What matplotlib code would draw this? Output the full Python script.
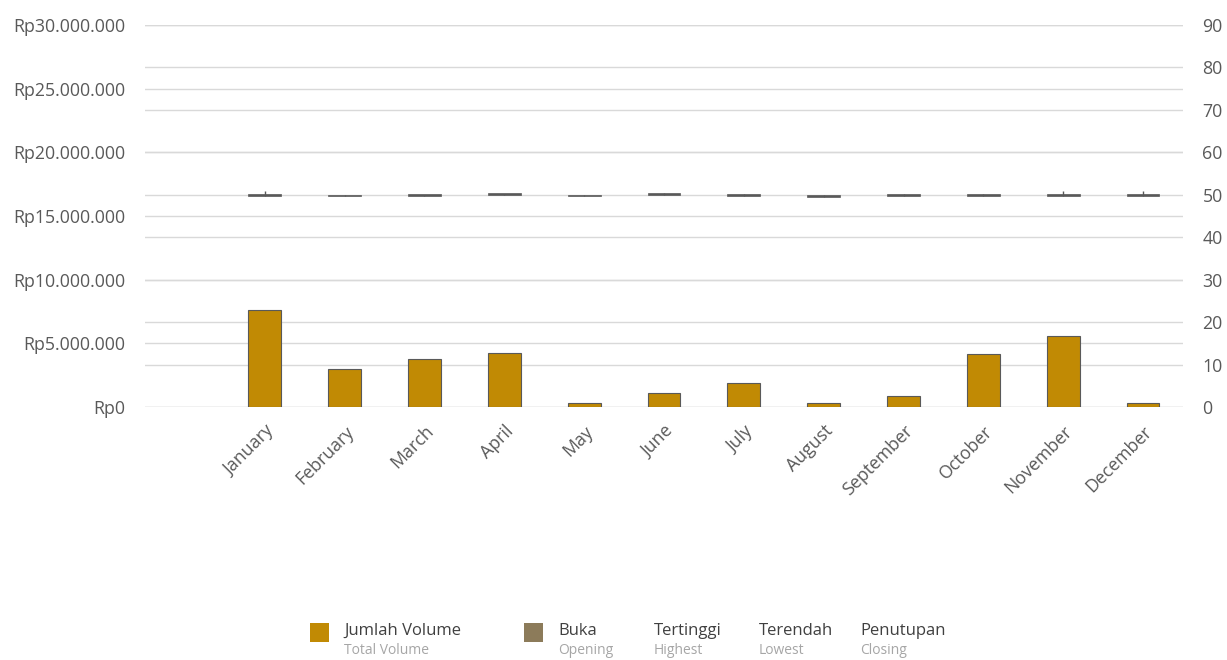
"""
# Monthly trading volume (bars) with open/high/low/close candles on the right axis
"""

### Packages
import matplotlib.pyplot as plt
from matplotlib.patches import Rectangle

### Data
months = ["", "January", "February", "March", "April", "May", "June", "July",
          "August", "September", "October", "November", "December"]
volume = [None, 7.6e6, 2.98e6, 3.77e6, 4.24e6, 0.31e6, 1.1e6, 1.89e6,
          0.33e6, 0.86e6, 4.2e6, 5.58e6, 0.3e6]
opening = [None, 50.2, 50.0, 50.0, 50.3, 50.0, 50.4, 50.2, 50.0, 50.2, 50.2, 50.2, 50.2]
highest = [None, 51.0, 50.0, 50.0, 50.3, 50.0, 50.4, 50.2, 50.0, 50.2, 50.2, 51.0, 51.0]
lowest = [None, 49.8, 49.7, 49.8, 50.0, 49.7, 50.0, 49.8, 49.5, 49.8, 49.7, 49.8, 49.8]
closing = [None, 49.8, 49.7, 49.8, 50.0, 49.7, 50.0, 49.8, 49.5, 49.8, 49.7, 49.8, 49.8]

left_ticks = [0, 5e6, 10e6, 15e6, 20e6, 25e6, 30e6]
right_ticks = list(range(0, 100, 10))

### Style
plt.rcParams['font.family'] = ['Open Sans', 'DejaVu Sans']
gold = '#c18a04'
olive = '#8c7b5a'
dark = '#595959'
grid_col = '#d9d9d9'
txt = '#595959'

W, H = 1227, 660
fig = plt.figure(figsize=(W / 100, H / 100), dpi=100)
ax = fig.add_axes([145 / W, 1 - 407 / H, (1183 - 145) / W, (407 - 25) / H])
ax2 = ax.twinx()

x = list(range(len(months)))

# Volume bars on left axis
for i, v in enumerate(volume):
    if v is not None:
        ax.bar(i, v, width=0.41, color=gold, edgecolor=dark, linewidth=0.8, zorder=3)

ax.set_ylim(0, 30e6)
ax.set_yticks(left_ticks)
ax.set_yticklabels(["Rp0"] + ["Rp{:,.0f}".format(t).replace(",", ".") for t in left_ticks[1:]])
ax.set_xlim(-0.5, len(months) - 0.5)
ax.set_xticks(x)
ax.set_xticklabels(months, rotation=45, ha='right', va='top', rotation_mode='anchor')

# Candles on right axis
for i in x:
    if opening[i] is None:
        continue
    ax2.vlines(i, lowest[i], highest[i], color=dark, linewidth=1, zorder=4)
    lo = min(opening[i], closing[i])
    h = max(abs(opening[i] - closing[i]), 0.35)
    ax2.bar(i, h, bottom=lo, width=0.41, color=dark, edgecolor=dark, linewidth=0.5, zorder=5)

ax2.set_ylim(0, 90)
ax2.set_yticks(right_ticks)

for a in (ax, ax2):
    a.grid(axis='y', color=grid_col, linewidth=1, zorder=0)
    a.tick_params(length=0, labelsize=12.8, labelcolor=txt, pad=14)
    for s in a.spines.values():
        s.set_visible(False)
ax.tick_params(axis='x', pad=11)
ax.set_axisbelow(True)
ax2.set_zorder(1)
ax.set_zorder(2)
ax.patch.set_visible(False)

# Custom legend at the bottom
def px(xp, yp):
    return xp / W, 1 - yp / H

legend = [
    (310, gold, "Jumlah Volume", "Total Volume"),
    (524, olive, "Buka", "Opening"),
    (620, None, "Tertinggi", "Highest"),
    (725, None, "Terendah", "Lowest"),
    (826, None, "Penutupan", "Closing"),
]
for xp, col, main, sub in legend:
    if col is not None:
        fig.patches.append(Rectangle(px(xp, 642), 19 / W, 19 / H, transform=fig.transFigure,
                                     facecolor=col, edgecolor='none'))
    fig.text(*px(xp + 34, 631), main, fontsize=12, color='#404040', va='center', ha='left')
    fig.text(*px(xp + 34, 651), sub, fontsize=10, color='#a6a6a6', va='center', ha='left')

plt.savefig("out.png", dpi=100)
